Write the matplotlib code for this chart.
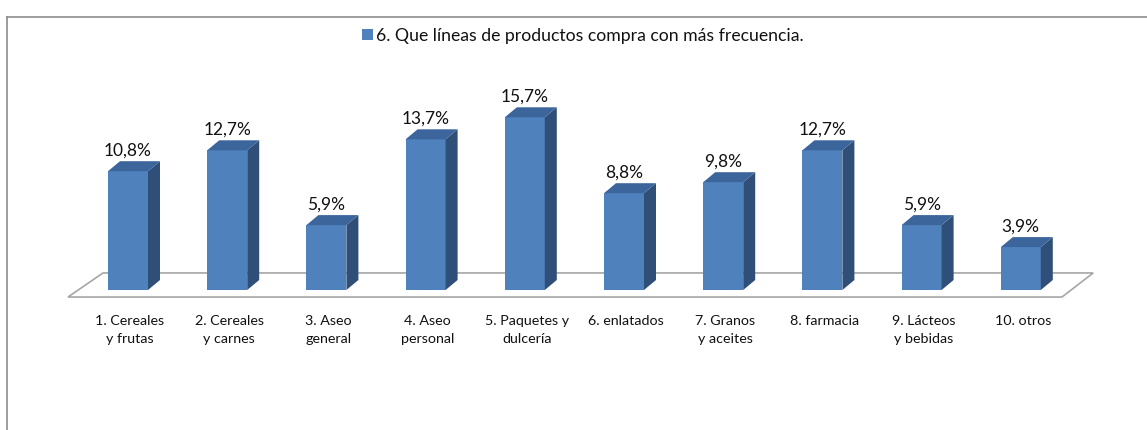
import matplotlib
matplotlib.use("Agg")
import matplotlib.pyplot as plt
from matplotlib.patches import Polygon, Rectangle
from matplotlib.lines import Line2D

categories = ["1. Cereales\ny frutas", "2. Cereales\ny carnes", "3. Aseo\ngeneral",
              "4. Aseo\npersonal", "5. Paquetes y\ndulcería", "6. enlatados",
              "7. Granos\ny aceites", "8. farmacia", "9. Lácteos\ny bebidas", "10. otros"]
values = [10.8, 12.7, 5.9, 13.7, 15.7, 8.8, 9.8, 12.7, 5.9, 3.9]
value_labels = ["10,8%", "12,7%", "5,9%", "13,7%", "15,7%", "8,8%", "9,8%", "12,7%", "5,9%", "3,9%"]
legend_label = "6. Que líneas de productos compra con más frecuencia."

W, H = 1147, 431
fig = plt.figure(figsize=(W / 100, H / 100), dpi=100)
plt.rcParams['font.family'] = ['Lato', 'DejaVu Sans']

px_per_x = 99.2
px_per_y = 11.0
x0_px = 128.0
y0_px = 291.0
left_px = x0_px - px_per_x
ax = fig.add_axes([left_px / W, 0, 11 * px_per_x / W, 1])
ax.set_xlim(-1, 10)
ax.set_ylim(-(H - y0_px) / px_per_y, y0_px / px_per_y)
ax.axis("off")

front_c = "#4F81BD"
side_c = "#2F4F79"
top_c = "#3B659B"

bw = 40 / px_per_x
dx = 12 / px_per_x
dy = 10 / px_per_y

# floor
fl = [(-0.605, -0.64), (9.415, -0.64), (9.73, 1.55), (-0.252, 1.55)]
ax.add_patch(Polygon(fl, closed=True, facecolor="white", edgecolor="#A6A6A6", lw=1.2, zorder=1))

xs = list(range(len(values)))
ax.bar(xs, values, width=bw, color=front_c, zorder=3, edgecolor="none")
for x, v, lab in zip(xs, values, value_labels):
    l, r = x - bw / 2, x + bw / 2
    ax.add_patch(Polygon([(r, 0), (r + dx, dy), (r + dx, v + dy), (r, v)], closed=True,
                         facecolor=side_c, edgecolor="none", zorder=3))
    ax.add_patch(Polygon([(l, v), (r, v), (r + dx, v + dy), (l + dx, v + dy)], closed=True,
                         facecolor=top_c, edgecolor="none", zorder=3))
    ax.text(x + 0.0, v + dy + 0.3, lab, ha="center", va="bottom", fontsize=12.5, color="#111111", zorder=4)

for x, c in zip(xs, categories):
    ax.text(x + 0.02, -2.2, c, ha="center", va="top", fontsize=10.3, color="#111111",
            linespacing=1.55, zorder=4)

# legend
fig.patches.append(Rectangle((362 / W, 1 - 41 / H), 11 / W, 11 / H, transform=fig.transFigure,
                             facecolor=front_c, edgecolor="none"))
fig.text(376 / W, 1 - 36 / H, legend_label, ha="left", va="center", fontsize=12.7, color="#111111")

# frame
fig.lines.append(Line2D([7.5 / W, 7.5 / W], [0, 1 - 18 / H], transform=fig.transFigure, color="#8C8C8C", lw=1.2))
fig.lines.append(Line2D([7.5 / W, 1], [1 - 18 / H, 1 - 18 / H], transform=fig.transFigure, color="#8C8C8C", lw=1.2))

fig.savefig("out.png", dpi=100)
